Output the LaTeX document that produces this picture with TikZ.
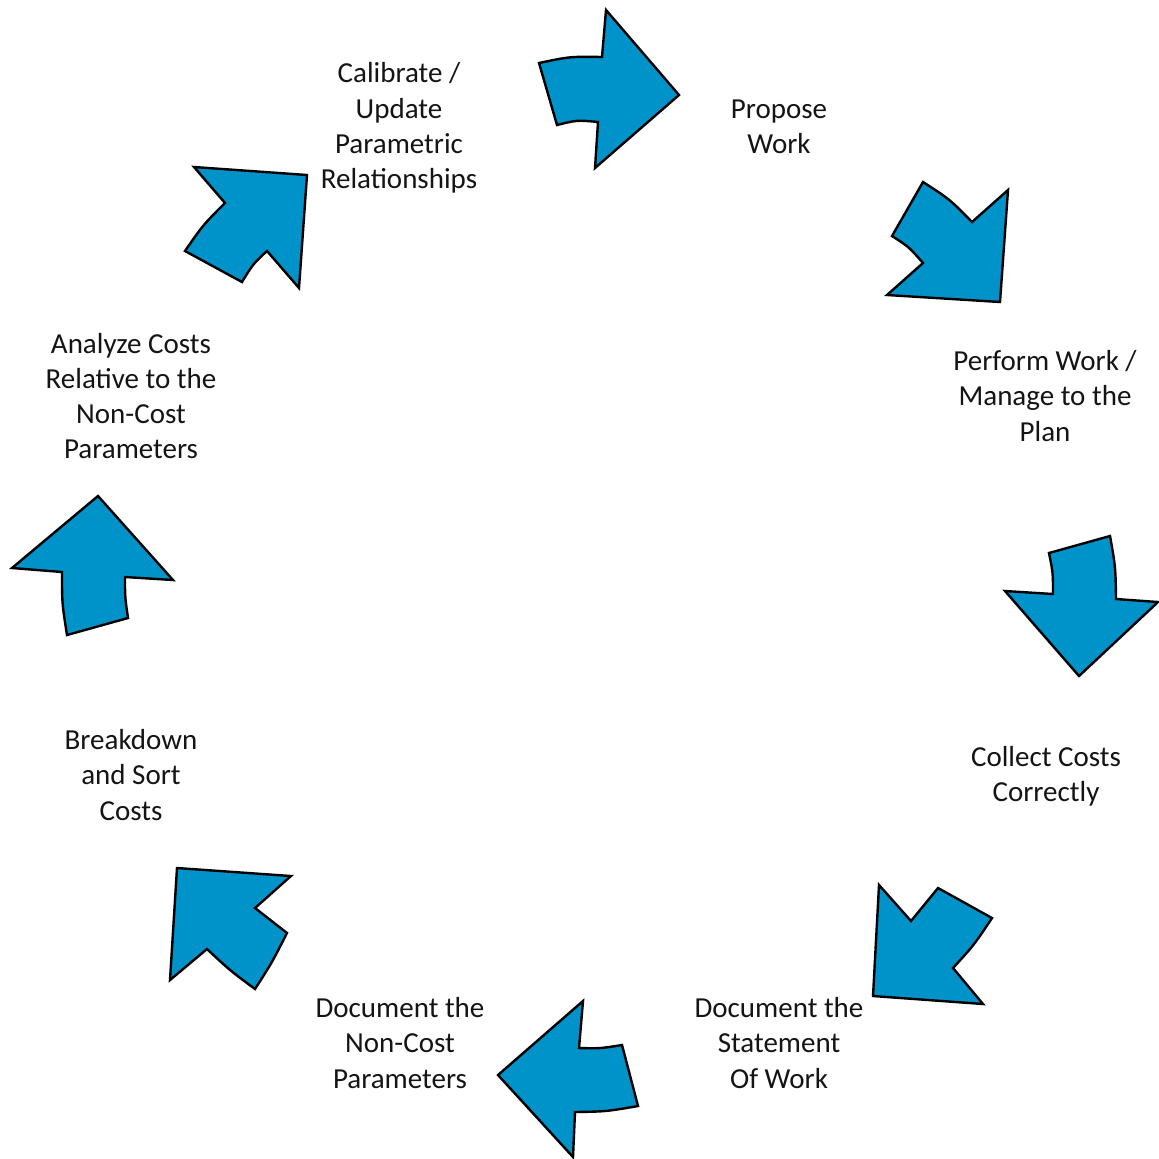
\documentclass[tikz,border=0pt]{standalone}
\usepackage{fontspec}
\setmainfont{Carlito}
\definecolor{arrblue}{RGB}{0,147,201}
\definecolor{txt}{RGB}{20,20,20}
\begin{document}
\begin{tikzpicture}[x=0.5pt,y=-0.5pt,
  arr/.style={fill=arrblue,draw=black,line width=1.2pt,line join=miter},
  lbl/.style={align=center,text=txt,font=\fontsize{14.5}{17.6}\selectfont,inner sep=0pt}]
\useasboundingbox (0,0) rectangle (1159,1158);
% arrow 1: top, pointing right
\draw[arr] (539,63) .. controls (570,56.5) .. (602,57) -- (606,10) -- (679,95) -- (595,168) -- (598,122) .. controls (577,120) .. (557,125) -- cycle;
% arrow 2: upper right, pointing down-right
\draw[arr] (923,182) .. controls (950,199.5) .. (972,222) -- (1008,190) -- (1000,302) -- (887,295) -- (923,263) .. controls (909,247) .. (892,236) -- cycle;
% arrow 3: right, pointing down
\draw[arr] (1049,553) -- (1110,536) .. controls (1115.5,567) .. (1116,599) -- (1158,602) -- (1079,676) -- (1005,591) -- (1053,594) .. controls (1053,573) .. (1049,553) -- cycle;
% arrow 4: lower right, pointing down-left
\draw[arr] (879,885) -- (911,921) .. controls (925,905) .. (938,888) -- (992,918) .. controls (974,945) .. (953,968) -- (983,1004) -- (873,996) -- cycle;
% arrow 5: bottom, pointing left
\draw[arr] (583,1001) -- (579,1048) .. controls (600,1048.5) .. (622,1045) -- (638,1106) .. controls (606,1111.5) .. (575,1112) -- (573,1157) -- (498,1075) -- cycle;
% arrow 6: lower left, pointing up-left
\draw[arr] (177,868) -- (291,876) -- (255,908) -- (287,933) .. controls (272,962.5) .. (255,989) .. controls (230,970.5) .. (207,949) -- (170,980) -- cycle;
% arrow 7: left, pointing up
\draw[arr] (98,496) -- (173,580) -- (125,577) .. controls (125,597.5) .. (128,618) -- (67,635) .. controls (62,603) .. (62,572) -- (12,568) -- cycle;
% arrow 8: upper left, pointing up-right
\draw[arr] (194,167) -- (307,175) -- (299,288) -- (267,251) .. controls (253,264) .. (242,282) -- (185,251) .. controls (203,225) .. (225,203) -- cycle;
% labels
\node[lbl] (t1) at (399,128) {Calibrate /\\Update\\Parametric\\Relationships};
\node[lbl] (t2) at (779,127) {Propose\\Work};
\node[lbl] (t3) at (1045,396) {Perform Work /\\Manage to the\\Plan};
\node[lbl] (t4) at (1046,776) {Collect Costs\\Correctly};
\node[lbl] (t5) at (779,1043) {Document the\\Statement\\Of Work};
\node[lbl] (t6) at (400,1043) {Document the\\Non-Cost\\Parameters};
\node[lbl] (t7) at (131,775) {Breakdown\\and Sort\\Costs};
\node[lbl] (t8) at (131,396) {Analyze Costs\\Relative to the\\Non-Cost\\Parameters};
\end{tikzpicture}
\end{document}
